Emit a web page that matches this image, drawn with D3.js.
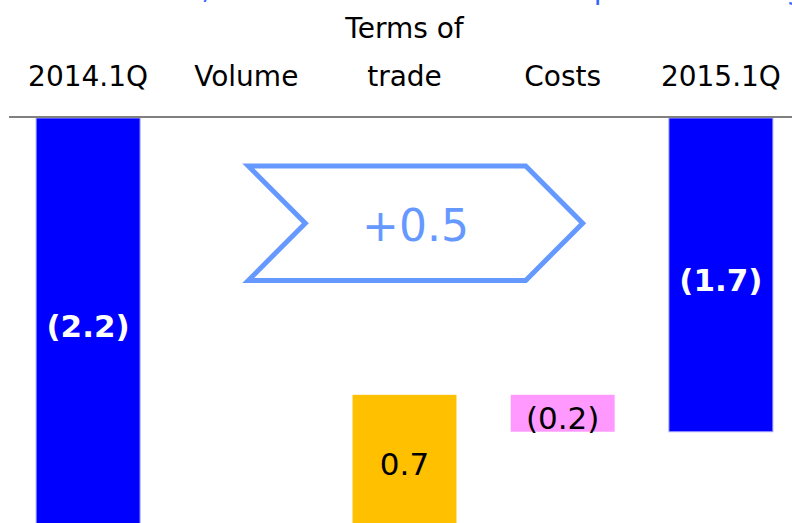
<!DOCTYPE html>
<html>
<head>
<meta charset="utf-8">
<script src="https://cdn.jsdelivr.net/npm/d3@7"></script>
<style>
  html, body { margin: 0; padding: 0; background: #fff; }
  svg { display: block; }
</style>
</head>
<body>
<script>
'use strict';

// chart data
const categories = ["2014.1Q", "Volume", "Terms of trade", "Costs", "2015.1Q"];
const labelLines = [["2014.1Q"], ["Volume"], ["Terms of", "trade"], ["Costs"], ["2015.1Q"]];
const changes = [-2.2, 0, 0.7, -0.2, -1.7];          // first and last are totals
const isTotal = [true, false, false, false, true];
const valueLabels = ["(2.2)", "", "0.7", "(0.2)", "(1.7)"];
const barColors = ["#0000ff", "#ffffff", "#ffc000", "#ff99ff", "#0000ff"];
const arrowLabel = "+0.5";

const width = 792, height = 523;

const svg = d3.select("body").append("svg")
  .attr("width", width)
  .attr("height", height);

// build waterfall segments
let running = 0;
const rows = categories.map((c, i) => {
  let from, to;
  if (isTotal[i]) { from = 0; to = changes[i]; running = changes[i]; }
  else { from = running; to = running + changes[i]; running = to; }
  return { cat: c, from: from, to: to, total: isTotal[i], label: valueLabels[i], color: barColors[i], lines: labelLines[i] };
});

const x = d3.scaleBand()
  .domain(categories)
  .range([9, 800])
  .paddingInner(0.343)
  .paddingOuter(0.1715);

const y = d3.scaleLinear()
  .domain([0, -2.2])
  .range([118, 524]);

// title (mostly off the top of the picture)
svg.append("text")
  .attr("x", 80)
  .attr("y", -1)
  .style("font-family", "DejaVu Sans, Verdana, sans-serif")
  .style("font-size", "28.5px")
  .style("fill", "#3366ff")
  .text("Net Loss, Narrowed Due to Trade Improvement Big");

// bars
svg.selectAll(".bar")
  .data(rows.filter(d => d.from !== d.to))
  .enter()
  .append("rect")
    .attr("class", "bar")
    .attr("x", d => x(d.cat))
    .attr("width", x.bandwidth())
    .attr("y", d => y(Math.max(d.from, d.to)))
    .attr("height", d => Math.abs(y(d.to) - y(d.from)))
    .style("fill", d => d.color)
    .style("stroke", d => d.total ? "#a0a0ff" : "none")
    .style("stroke-width", 1);

// axis line at zero
svg.append("line")
  .attr("x1", 9)
  .attr("x2", width)
  .attr("y1", y(0) - 1)
  .attr("y2", y(0) - 1)
  .style("stroke", "#808080")
  .style("stroke-width", 2);

// category labels above the axis
rows.forEach(d => {
  const t = svg.append("text")
    .attr("text-anchor", "middle")
    .style("font-family", "DejaVu Sans, Verdana, sans-serif")
    .style("font-size", "28px")
    .style("fill", "#000");
  const n = d.lines.length;
  d.lines.forEach((line, k) => {
    t.append("tspan")
      .attr("x", x(d.cat) + x.bandwidth() / 2)
      .attr("y", 86 - (n - 1 - k) * 48)
      .text(line);
  });
});

// value labels inside bars
svg.selectAll(".vlabel")
  .data(rows.filter(d => d.label !== ""))
  .enter()
  .append("text")
    .attr("class", "vlabel")
    .attr("text-anchor", "middle")
    .attr("x", d => x(d.cat) + x.bandwidth() / 2)
    .attr("y", d => (y(d.from) + y(d.to)) / 2 + 5 + 11)
    .style("font-family", "DejaVu Sans, Verdana, sans-serif")
    .style("font-size", "31px")
    .style("font-weight", d => d.total ? "bold" : "normal")
    .style("fill", d => d.total ? "#fff" : "#000")
    .text(d => d.label);

// arrow showing the net change
const xL = x("Volume") + x.bandwidth() / 2 + 2;
const xR = x("Costs") + x.bandwidth() / 2 + 20;
const yT = y(-0.26), yB = y(-0.88), yM = (yT + yB) / 2;
const notch = 57;
const arrow = d3.path();
arrow.moveTo(xL, yT);
arrow.lineTo(xR - notch, yT);
arrow.lineTo(xR, yM);
arrow.lineTo(xR - notch, yB);
arrow.lineTo(xL, yB);
arrow.lineTo(xL + notch, yM);
arrow.closePath();

svg.append("path")
  .attr("d", arrow.toString())
  .style("fill", "none")
  .style("stroke", "#6699ff")
  .style("stroke-width", 5)
  .style("stroke-linejoin", "miter");

svg.append("text")
  .attr("x", (xL + xR) / 2)
  .attr("y", yM + 18)
  .attr("text-anchor", "middle")
  .style("font-family", "DejaVu Sans, Verdana, sans-serif")
  .style("font-size", "44px")
  .style("fill", "#6699ff")
  .text(arrowLabel);
</script>
</body>
</html>
